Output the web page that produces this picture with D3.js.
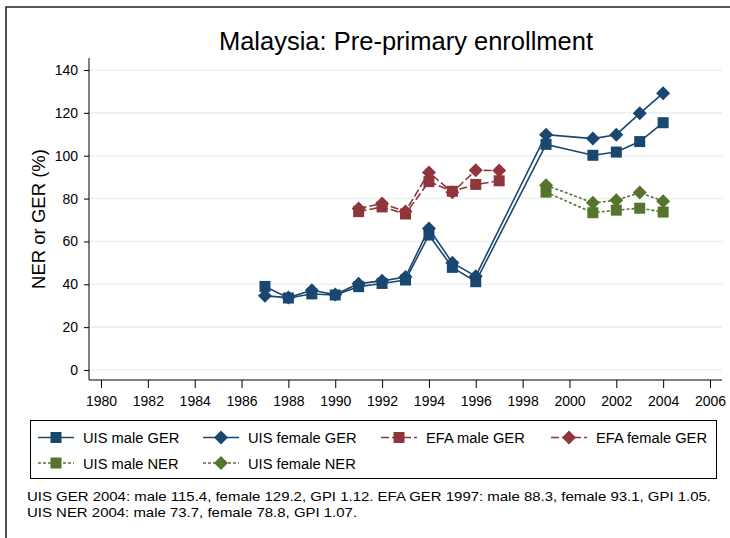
<!DOCTYPE html>
<html>
<head>
<meta charset="utf-8">
<script src="https://cdn.jsdelivr.net/npm/d3@7"></script>
<style>
  body { margin: 0; background: #fff; }
  svg text { font-family: "Liberation Sans", Arial, sans-serif; fill: #000; }
</style>
</head>
<body>
<svg id="chart" width="730" height="538"></svg>
<script>
// values
const gerYears = [1987, 1988, 1989, 1990, 1991, 1992, 1993, 1994, 1995, 1996, 1999, 2001, 2002, 2003, 2004]
const uisMaleGER = [39, 33.6, 35.5, 35, 38.9, 40.4, 42, 63, 47.9, 41.2, 105.3, 100.2, 101.7, 106.6, 115.4]
const uisFemaleGER = [34.6, 33.8, 37.2, 35.2, 40.3, 41.6, 43.4, 66, 50, 43.8, 109.8, 108, 109.8, 119.8, 129.2]

const efaYears = [1991, 1992, 1993, 1994, 1995, 1996, 1997]
const efaMaleGER = [73.9, 76.1, 72.8, 87.9, 83.4, 86.6, 88.3]
const efaFemaleGER = [75.4, 77.7, 74, 92.2, 82.9, 93.2, 93.1]

const nerYears = [1999, 2001, 2002, 2003, 2004]
const uisMaleNER = [83, 73.4, 74.6, 75.5, 73.7]
const uisFemaleNER = [86.2, 78, 79.2, 82.8, 78.8]

const xTicks = d3.range(1980, 2007, 2)
const yTicks = [0, 20, 40, 60, 80, 100, 120, 140]

const titleText = "Malaysia: Pre-primary enrollment"
const yLabel = "NER or GER (%)"
const notes = [
  "UIS GER 2004: male 115.4, female 129.2, GPI 1.12. EFA GER 1997: male 88.3, female 93.1, GPI 1.05.",
  "UIS NER 2004: male 73.7, female 78.8, GPI 1.07."
]

const navy = "#1a476f", maroon = "#90353b", green = "#55752f"

const series = [
  {name: "UIS male GER", years: gerYears, vals: uisMaleGER, color: navy, dash: null, shape: "square"},
  {name: "UIS female GER", years: gerYears, vals: uisFemaleGER, color: navy, dash: null, shape: "diamond"},
  {name: "EFA male GER", years: efaYears, vals: efaMaleGER, color: maroon, dash: "8,3", shape: "square"},
  {name: "EFA female GER", years: efaYears, vals: efaFemaleGER, color: maroon, dash: "8,3", shape: "diamond"},
  {name: "UIS male NER", years: nerYears, vals: uisMaleNER, color: green, dash: "3,2", shape: "square"},
  {name: "UIS female NER", years: nerYears, vals: uisFemaleNER, color: green, dash: "3,2", shape: "diamond"}
]

const svg = d3.select("#chart")

// outer frame of the stata graph (cut off on right / bottom)
svg.append("path")
  .attr("d", "M6,540 L6,7 L740,7")
  .attr("fill", "none")
  .attr("stroke", "#222")
  .attr("stroke-width", 1.6)

const x = d3.scaleLinear().domain([1980, 2006]).range([101, 710])
const y = d3.scaleLinear().domain([0, 140]).range([370, 70])

const plotLeft = 89, plotRight = 722, plotTop = 58, plotBottom = 380

// grid
svg.append("g").selectAll("line")
  .data(yTicks)
  .enter().append("line")
  .attr("x1", plotLeft).attr("x2", plotRight)
  .attr("y1", d => y(d)).attr("y2", d => y(d))
  .attr("stroke", "#eaf2f3")
  .attr("stroke-width", 1.6)

// y axis
const yAxis = svg.append("g")
  .attr("transform", `translate(${plotLeft},0)`)
  .call(d3.axisLeft(y).tickValues(yTicks).tickSize(5).tickPadding(6).tickSizeOuter(0))
yAxis.select(".domain").remove()
yAxis.selectAll("text").style("font-size", "14px")
yAxis.selectAll("line").attr("stroke", "#000")

// x axis
const xAxis = svg.append("g")
  .attr("transform", `translate(0,${plotBottom})`)
  .call(d3.axisBottom(x).tickValues(xTicks).tickFormat(d3.format("d")).tickSize(8).tickPadding(8).tickSizeOuter(0))
xAxis.select(".domain").remove()
xAxis.selectAll("text").style("font-size", "14px")
xAxis.selectAll("line").attr("stroke", "#000")

svg.append("line")
  .attr("x1", plotLeft).attr("x2", plotLeft)
  .attr("y1", plotTop).attr("y2", plotBottom)
  .attr("stroke", "#000")
svg.append("line")
  .attr("x1", plotLeft).attr("x2", plotRight)
  .attr("y1", plotBottom).attr("y2", plotBottom)
  .attr("stroke", "#000")

// title & axis label
svg.append("text")
  .attr("x", 406).attr("y", 50)
  .attr("text-anchor", "middle")
  .style("font-size", "25.5px")
  .text(titleText)

svg.append("text")
  .attr("transform", "translate(45,219) rotate(-90)")
  .attr("text-anchor", "middle")
  .style("font-size", "18.5px")
  .text(yLabel)

function marker(g, shape, color, cx, cy) {
  if (shape == "square") {
    g.append("rect")
      .attr("x", cx - 5.5).attr("y", cy - 5.5)
      .attr("width", 11).attr("height", 11)
      .attr("fill", color)
  } else {
    const r = 7
    g.append("path")
      .attr("d", `M${cx},${cy - r} L${cx + r},${cy} L${cx},${cy + r} L${cx - r},${cy} Z`)
      .attr("fill", color)
  }
}

const line = d3.line().x(d => x(d[0])).y(d => y(d[1]))

const marks = svg.append("g")
series.forEach(s => {
  const pts = s.years.map((yr, i) => [yr, s.vals[i]])
  marks.append("path")
    .datum(pts)
    .attr("d", line)
    .attr("fill", "none")
    .attr("stroke", s.color)
    .attr("stroke-width", 1.6)
    .attr("stroke-dasharray", s.dash)
  const mg = marks.append("g")
  pts.forEach(p => marker(mg, s.shape, s.color, x(p[0]), y(p[1])))
})

// legend
svg.append("rect")
  .attr("x", 30.5).attr("y", 420.5)
  .attr("width", 686).attr("height", 58)
  .attr("fill", "none")
  .attr("stroke", "#000")
  .attr("stroke-width", 1)

const colX = [38, 203, 381, 551]
const rowY = [437.5, 463]
series.forEach((s, i) => {
  const lx = colX[i % 4], ly = rowY[Math.floor(i / 4)]
  const g = svg.append("g")
  g.append("line")
    .attr("x1", lx).attr("x2", lx + 36)
    .attr("y1", ly).attr("y2", ly)
    .attr("stroke", s.color)
    .attr("stroke-width", 1.6)
    .attr("stroke-dasharray", s.dash)
  marker(g, s.shape, s.color, lx + 18, ly)
  g.append("text")
    .attr("x", lx + 45).attr("y", ly + 5.5)
    .style("font-size", "14.7px")
    .text(s.name)
})

// notes: stata font is a bit narrower-tall, so stretch 13px text sideways
const noteTexts = notes.map((t, i) => svg.append("text")
  .attr("x", 27).attr("y", 501 + i * 16)
  .style("font-size", "13px")
  .text(t))
const stretch = 684 / noteTexts[0].node().getComputedTextLength()
noteTexts.forEach(n => {
  n.attr("textLength", n.node().getComputedTextLength() * stretch)
    .attr("lengthAdjust", "spacingAndGlyphs")
})
</script>
</body>
</html>
